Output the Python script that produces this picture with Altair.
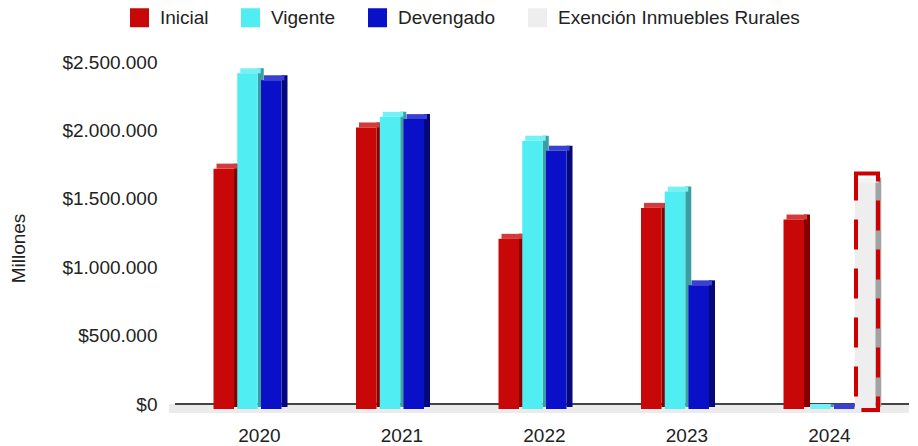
import altair as alt
import pandas as pd

years = ["2020", "2021", "2022", "2023", "2024"]
series = ["Inicial", "Vigente", "Devengado", "Exención Inmuebles Rurales"]
inicial = [1757000, 2058000, 1244000, 1470000, 1385000]
vigente = [2454000, 2136000, 1961000, 1589000, 0]
devengado = [2403000, 2119000, 1888000, 904000, 0]
exencion = [None, None, None, None, 1655000]
y_ticks = [0, 500000, 1000000, 1500000, 2000000, 2500000]

front_colors = ["#c80808", "#50eef2", "#0a10c8", "#eeeeee"]
top_colors = ["#d43a3a", "#74f1f4", "#3a40d2", "#f3f3f3"]
side_colors = ["#860000", "#3a9ea2", "#04087a", "#a2a2a2"]

SLOTS = 6
slot_domain = [f"{y}-{k}" for y in years for k in range(SLOTS)]

rows = []
for s_i, (name, vals) in enumerate(zip(series, [inicial, vigente, devengado, exencion])):
    for y, v in zip(years, vals):
        if v is None:
            continue
        rows.append({"year": y, "serie": name, "valor": v, "slot": f"{y}-{s_i + 1}"})
df = pd.DataFrame(rows)

FONT = "Liberation Sans"
W, H = 734, 342
BW = 20.5  # approx bar width from scale padding

x_enc = alt.X(
    "slot:N",
    scale=alt.Scale(domain=slot_domain, paddingInner=0.137, paddingOuter=0.521, align=0.596),
    axis=alt.Axis(
        title=None, labelAngle=0, ticks=False, domain=False, grid=False,
        labelExpr="slice(datum.value, 5) == '2' ? slice(datum.value, 0, 4) : ''",
        labelOffset=11.9, labelOverlap=False, labelPadding=22,
        labelFontSize=19, labelFont=FONT, labelColor="#222222",
    ),
)

y_scale = alt.Scale(domain=[0, 2500000], nice=False)
y_axis = alt.Axis(
    title="Millones", values=y_ticks, ticks=False, domain=False,
    labelExpr="'$' + replace(format(datum.value, ','), regexp(',', 'g'), '.')",
    labelPadding=18, labelFontSize=19, labelFont=FONT, labelColor="#222222",
    gridColor="#cccccc", gridWidth=1.5,
    titleFontSize=19, titleFont=FONT, titleFontWeight="normal", titleColor="#222222",
    titleAngle=270, titleAlign="center", titleBaseline="middle",
    titleX=-156.5, titleY=186,
)

def y_val():
    return alt.Y("valor:Q", scale=y_scale, axis=y_axis)

base = alt.Chart(df)

floor = alt.Chart(df).mark_rect(color="#ebebeb", y2Offset=9).encode(
    x=alt.value(-6), x2=alt.value(W),
    y=alt.Y(datum=0, scale=y_scale, axis=y_axis), y2=alt.Y2(datum=0),
)

zero = alt.Chart(df).mark_rule(color="#444444", strokeWidth=1.5).encode(
    x=alt.value(0), x2=alt.value(W),
    y=alt.Y(datum=0, scale=y_scale, axis=y_axis),
)

sides = base.mark_bar(width=6, xOffset=BW / 2 + 3, y2Offset=3).encode(
    x=x_enc, y=y_val(), y2=alt.Y2(datum=0),
    color=alt.Color("serie:N", scale=alt.Scale(domain=series, range=side_colors), legend=None),
)

caps = base.mark_bar(xOffset=3, y2Offset=5).encode(
    x=x_enc, y=y_val(), y2=alt.Y2("valor:Q"),
    color=alt.Color("serie:N", scale=alt.Scale(domain=series, range=top_colors), legend=None),
)

fronts = base.mark_bar(yOffset=5, y2Offset=5).encode(
    x=x_enc, y=y_val(), y2=alt.Y2(datum=0),
    color=alt.Color(
        "serie:N",
        scale=alt.Scale(domain=series, range=front_colors),
        legend=alt.Legend(
            title=None, orient="none", legendX=-45, legendY=-54, direction="horizontal",
            symbolType="square", symbolSize=361, symbolStrokeWidth=0,
            labelFontSize=19, labelFont=FONT, labelColor="#222222", labelLimit=400,
            labelOffset=11, columnPadding=32, padding=0,
        ),
    ),
)

outline = base.transform_filter(alt.datum.serie == series[3]).mark_bar(
    fillOpacity=0, stroke="#cc0000", strokeWidth=4, strokeDash=[30, 19],
    width=22, xOffset=2, yOffset=-4, y2Offset=6,
).encode(x=x_enc, y=y_val(), y2=alt.Y2(datum=0))

chart = (
    alt.layer(floor, zero, sides, caps, fronts, outline)
    .resolve_scale(color="independent")
    .properties(
        width=W, height=H,
        autosize=alt.AutoSizeParams(type="none"),
        padding={"left": 167, "top": 54, "right": 0, "bottom": 42},
    )
    .configure(font=FONT)
    .configure_view(stroke="transparent", strokeWidth=0)
)

chart.save("out.html", embed_options={"renderer": "svg", "actions": False})
